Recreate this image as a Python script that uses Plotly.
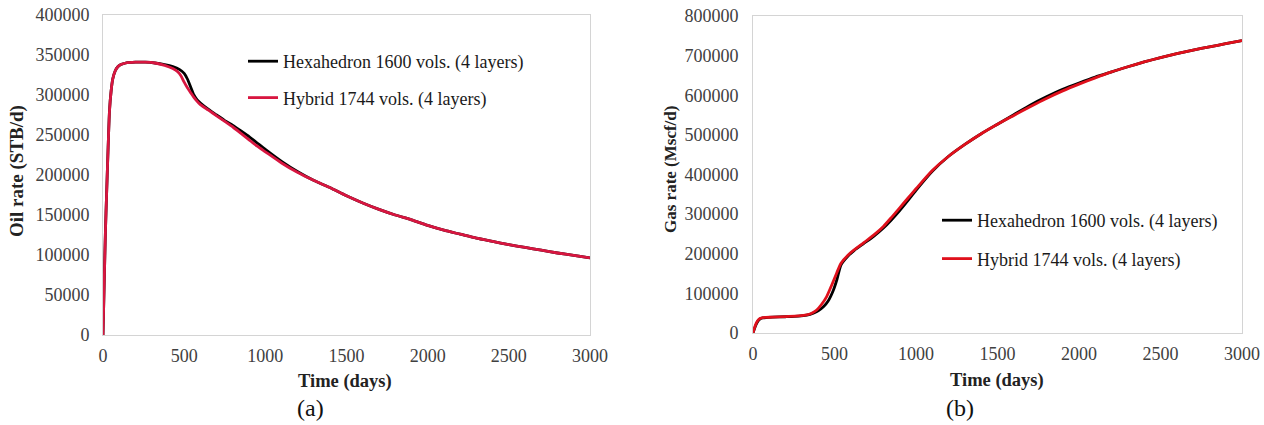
import plotly.graph_objects as go

# ---------------- data ----------------
oil_t_hex = [0, 8, 15, 22, 30, 40, 50, 60, 75, 90, 110, 140, 200, 260, 320, 380, 430, 470, 500,
             520, 540, 560, 580, 600, 650, 700, 750, 800, 850, 900, 950, 1000, 1100, 1200, 1300,
             1400, 1500, 1600, 1700, 1800, 1900, 2000, 2100, 2200, 2300, 2400, 2500, 2600, 2700,
             2800, 2900, 3000]
oil_hex = [0, 70000, 130000, 175000, 225000, 280000, 305000, 320000, 330000, 335000, 338000, 340000,
           341000, 341000, 340000, 338000, 335500, 332000, 327000, 320000, 310000, 300000, 294000,
           290000, 282000, 275000, 268000, 262000, 255000, 248000, 240000, 232000, 217000, 204000,
           193000, 184000, 174000, 165000, 157000, 150000, 144000, 137000, 131000, 126000, 121000,
           117000, 113000, 109500, 106000, 102500, 99500, 96500]

oil_t_hyb = [0, 8, 15, 22, 30, 40, 50, 60, 75, 90, 110, 140, 200, 260, 320, 380, 430, 460, 480,
             500, 520, 540, 560, 580, 600, 650, 700, 750, 800, 850, 900, 950, 1000, 1100, 1200,
             1300, 1400, 1500, 1600, 1700, 1800, 1900, 2000, 2100, 2200, 2300, 2400, 2500, 2600,
             2700, 2800, 2900, 3000]
oil_hyb = [0, 70000, 130000, 175000, 225000, 280000, 305000, 320000, 330000, 335000, 338000, 340000,
           341000, 341000, 340000, 337000, 333000, 329000, 324000, 316000, 309000, 303000, 297000,
           292000, 288000, 281000, 274000, 267000, 260000, 252000, 244000, 236000, 229000, 215000,
           203000, 193000, 184000, 174000, 165000, 157000, 150000, 144000, 137000, 131000, 126000,
           121000, 117000, 113000, 109500, 106000, 102500, 99500, 96500]

gas_t_hex = [0, 10, 20, 30, 45, 60, 80, 120, 200, 280, 330, 370, 400, 432, 460, 493, 515, 540,
             580, 620, 680, 740, 800, 850, 900, 950, 1000, 1100, 1200, 1300, 1400, 1500,
             1600, 1700, 1800, 1900, 2000, 2100, 2200, 2300, 2400, 2500, 2600, 2700, 2800, 2900, 3000]
gas_hex = [0, 12000, 22000, 30000, 36000, 38000, 39000, 40000, 41000, 42500, 45000, 50000, 56000,
           66000, 80000, 108000, 135000, 172000, 193000, 208000, 226000, 244000, 265000,
           286000, 309000, 334000, 360000, 408000, 446000, 476000, 503000, 527000,
           551000, 575000, 596000, 615000, 631000, 646000, 659000, 672000, 684000, 695000, 705000,
           714000, 722000, 730000, 738000]

gas_t_hyb = [0, 10, 20, 30, 45, 60, 80, 120, 200, 280, 329, 360, 391, 420, 452, 480, 513, 540,
             600, 680, 740, 800, 850, 900, 950, 1000, 1100, 1200, 1300, 1400, 1500, 1600,
             1700, 1800, 1900, 2000, 2100, 2200, 2300, 2400, 2500, 2600, 2700, 2800, 2900, 3000]
gas_hyb = [0, 14000, 25000, 32000, 37000, 39000, 39500, 40000, 41500, 43000, 45500, 50000, 58000,
           72000, 92000, 118000, 151000, 176000, 203000, 228000, 247000, 269000, 292000,
           316000, 340000, 364000, 410000, 446000, 476000, 503000, 527000, 549000,
           571000, 592000, 611000, 628000, 644000, 659000, 672000, 684000, 695000, 705000,
           714000, 722000, 730000, 738000]

x_ticks = [0, 500, 1000, 1500, 2000, 2500, 3000]
name_hex = "Hexahedron 1600 vols. (4 layers)"
name_hyb = "Hybrid 1744 vols. (4 layers)"

# ---------------- figure ----------------
W, H = 1264, 425
SERIF = "Liberation Serif, Times New Roman, serif"


def px(x):
    return x / W


def py(y):
    return 1 - y / H


fig = go.Figure()

line_kw = dict(shape="spline", smoothing=0.6, width=2.8)

fig.add_trace(go.Scatter(x=oil_t_hex, y=oil_hex, mode="lines", name=name_hex,
                         line=dict(color="#000000", **line_kw), xaxis="x", yaxis="y",
                         legend="legend", legendgroup="a1"))
fig.add_trace(go.Scatter(x=oil_t_hyb, y=oil_hyb, mode="lines", name=name_hyb,
                         line=dict(color="#d81640", **line_kw), xaxis="x", yaxis="y",
                         legend="legend", legendgroup="a2"))
fig.add_trace(go.Scatter(x=gas_t_hex, y=gas_hex, mode="lines", name=name_hex,
                         line=dict(color="#000000", **line_kw), xaxis="x2", yaxis="y2",
                         legend="legend2", legendgroup="b1"))
fig.add_trace(go.Scatter(x=gas_t_hyb, y=gas_hyb, mode="lines", name=name_hyb,
                         line=dict(color="#e0101c", **line_kw), xaxis="x2", yaxis="y2",
                         legend="legend2", legendgroup="b2"))

axis_common = dict(showgrid=False, zeroline=False, showline=True, linecolor="#d4d4d4",
                   linewidth=1, mirror=True, ticks="",
                   tickfont=dict(family=SERIF, size=18, color="#404040"))

fig.update_layout(
    width=W, height=H,
    margin=dict(l=0, r=0, t=0, b=0, autoexpand=False),
    paper_bgcolor="white", plot_bgcolor="white",
    showlegend=True,
    xaxis=dict(domain=[px(103), px(590)], range=[0, 3000], tickvals=x_ticks,
               anchor="y", ticklabelstandoff=4, **axis_common),
    yaxis=dict(domain=[py(335), py(15)], range=[0, 400000], dtick=50000, tickformat="d",
               anchor="x", ticklabelstandoff=9, **axis_common),
    xaxis2=dict(domain=[px(753), px(1242)], range=[0, 3000], tickvals=x_ticks,
                anchor="y2", ticklabelstandoff=4, **axis_common),
    yaxis2=dict(domain=[py(333), py(16)], range=[0, 800000], dtick=100000, tickformat="d",
                anchor="x2", ticklabelstandoff=10, **axis_common),
    legend=dict(x=px(243), y=py(43), xanchor="left", yanchor="top",
                font=dict(family=SERIF, size=18, color="#1a1a1a"),
                bgcolor="rgba(0,0,0,0)", tracegroupgap=10, traceorder="grouped"),
    legend2=dict(x=px(937), y=py(202), xanchor="left", yanchor="top",
                 font=dict(family=SERIF, size=18, color="#1a1a1a"),
                 bgcolor="rgba(0,0,0,0)", tracegroupgap=12, traceorder="grouped"),
)

annos = [
    dict(text="<b>Oil rate (STB/d)</b>", x=px(17), y=py(171), textangle=-90,
         font=dict(family=SERIF, size=19, color="#222222")),
    dict(text="<b>Gas rate (Mscf/d)</b>", x=px(670), y=py(170), textangle=-90,
         font=dict(family=SERIF, size=17, color="#222222")),
    dict(text="<b>Time (days)</b>", x=px(345), y=py(381),
         font=dict(family=SERIF, size=18.5, color="#222222")),
    dict(text="<b>Time (days)</b>", x=px(997), y=py(380),
         font=dict(family=SERIF, size=18.5, color="#222222")),
    dict(text="(a)", x=px(310), y=py(408), font=dict(family=SERIF, size=24, color="#111111")),
    dict(text="(b)", x=px(960), y=py(408), font=dict(family=SERIF, size=24, color="#111111")),
]
for a in annos:
    fig.add_annotation(xref="paper", yref="paper", showarrow=False,
                       xanchor="center", yanchor="middle", **a)

fig.write_html("out.html")
